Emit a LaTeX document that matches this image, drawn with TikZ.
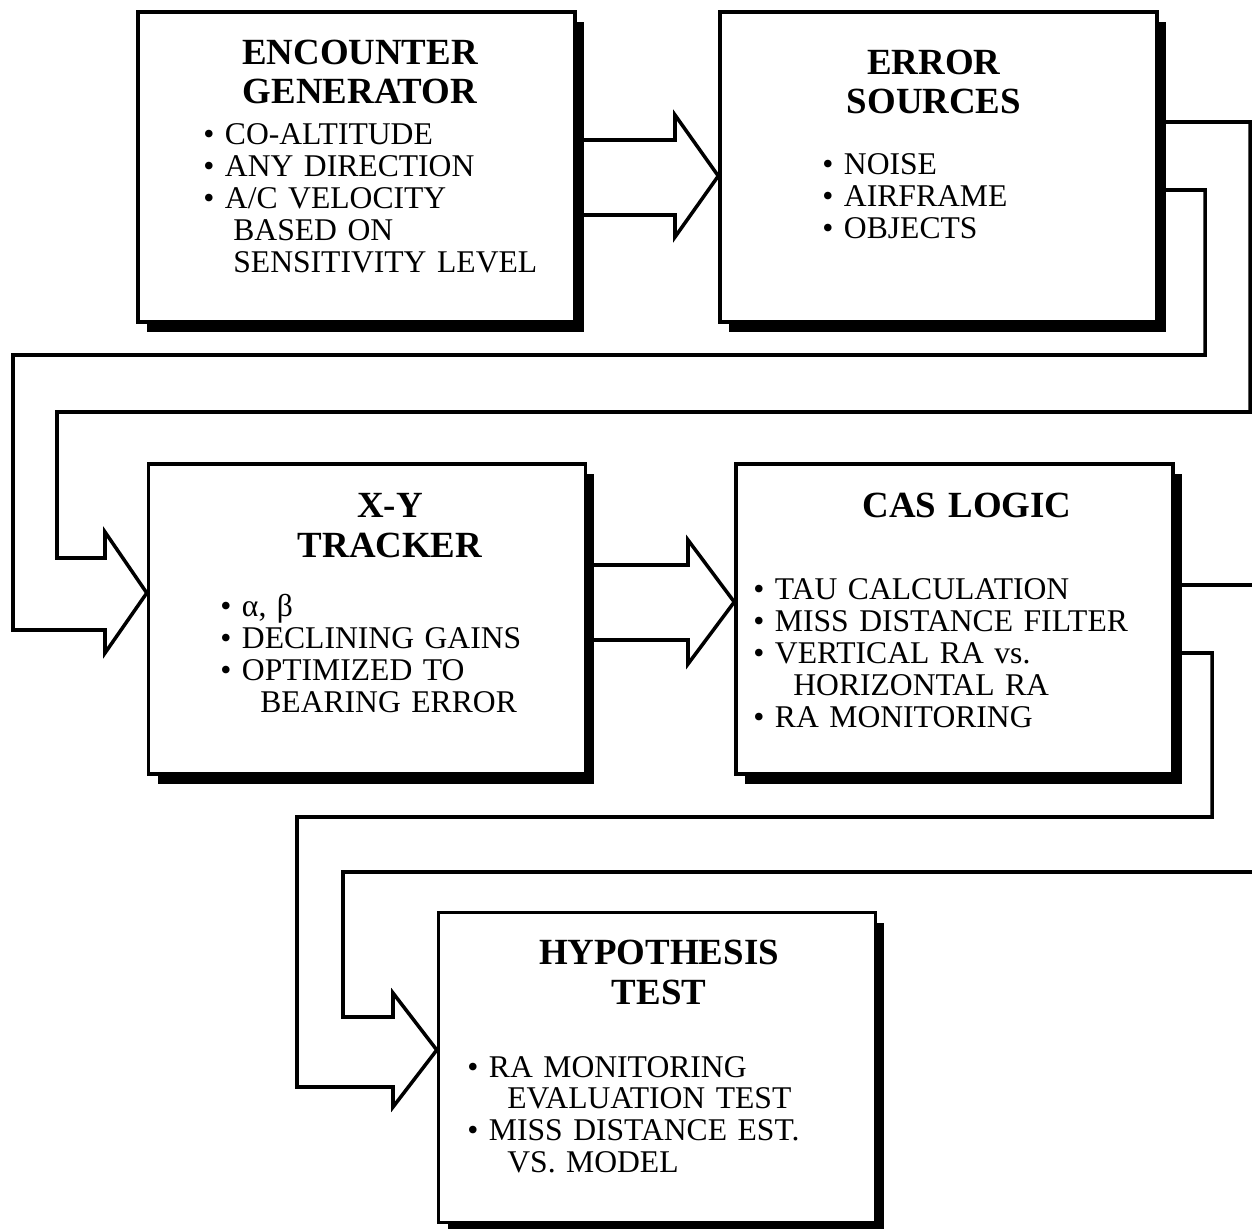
\documentclass[tikz,border=0pt]{standalone}
\usepackage{fontspec}
\setmainfont{Liberation Serif}
\usetikzlibrary{shadows}

\tikzset{
  block/.style={draw, fill=white, line width=2pt,
    minimum width=8.74cm, minimum height=6.2cm,
    drop shadow={shadow xshift=0.18cm, shadow yshift=-0.2cm, fill=black, opacity=1}},
  blocktitle/.style={anchor=base, text width=8cm, align=center, inner sep=0pt,
    font=\fontsize{21}{22.2}\selectfont\bfseries},
  blocklist/.style={anchor=base west, text width=8cm, align=left, inner sep=0pt,
    font=\fontsize{18}{18.2}\selectfont},
  pipe/.style={line width=2pt}
}
\newcommand{\itm}{\textbullet\ }
\newcommand{\cnt}[1][0.8cm]{\hspace*{#1}}

\begin{document}
\begin{tikzpicture}[x=0.02cm, y=-0.02cm]
    \useasboundingbox (0,0) rectangle (1252,1229);

    % the five stages
    \node[block] (enc) at (356.5,167) {};
    \node[block] (err) at (938.5,167) {};
    \node[block] (trk) at (367,619) {};
    \node[block] (cas) at (954.5,619) {};
    \node[block] (hyp) at (657,1067.5) {};

    \node[blocktitle] (enc-t) at (360,65) {ENCOUNTER\\GENERATOR};
    \node[blocklist] (enc-l) at (203,145) {\itm CO-ALTITUDE\\ \itm ANY DIRECTION\\
        \itm A/C VELOCITY\\ \cnt[0.6cm]BASED ON\\ \cnt[0.6cm]SENSITIVITY LEVEL};

    \node[blocktitle] (err-t) at (934,75) {ERROR\\SOURCES};
    \node[blocklist] (err-l) at (822,175) {\itm NOISE\\ \itm AIRFRAME\\ \itm OBJECTS};

    \node[blocktitle] (trk-t) at (390,518) {X-Y\\TRACKER};
    \node[blocklist] (trk-l) at (220,617) {\itm α, β\\ \itm DECLINING GAINS\\
        \itm OPTIMIZED TO\\ \cnt BEARING ERROR};

    \node[blocktitle] (cas-t) at (967,518) {CAS LOGIC};
    \node[blocklist] (cas-l) at (753,600) {\itm TAU CALCULATION\\ \itm MISS DISTANCE FILTER\\
        \itm VERTICAL RA vs.\\ \cnt HORIZONTAL RA\\ \itm RA MONITORING};

    \node[blocktitle] (hyp-t) at (659,965) {HYPOTHESIS\\TEST};
    \node[blocklist] (hyp-l) at (467,1077) {\itm RA MONITORING\\ \cnt EVALUATION TEST\\
        \itm MISS DISTANCE EST.\\ \cnt VS. MODEL};

    % hollow arrows between the stages
    \draw[pipe] (enc.east |- 0,140) -- (675,140) -- (675,115) -- (err.west |- 0,176)
        -- (675,237) -- (675,215) -- (enc.east |- 0,215);
    \draw[pipe] (err.east |- 0,122) -- (1250,122) -- (1250,412) -- (57,412) -- (57,558)
        -- (105,558) -- (105,532) -- (trk.west |- 0,593) -- (105,653) -- (105,630)
        -- (13,630) -- (13,355) -- (1205,355) -- (1205,190) -- (err.east |- 0,190);
    \draw[pipe] (trk.east |- 0,565) -- (688,565) -- (688,540) -- (cas.west |- 0,602)
        -- (688,664) -- (688,640) -- (trk.east |- 0,640);
    \draw[pipe] (cas.east |- 0,585) -- (1262,585) -- (1262,872) -- (343,872) -- (343,1017)
        -- (393,1017) -- (393,993) -- (hyp.west |- 0,1050) -- (393,1107) -- (393,1087)
        -- (297,1087) -- (297,817) -- (1212,817) -- (1212,653) -- (cas.east |- 0,653);
\end{tikzpicture}
\end{document}
